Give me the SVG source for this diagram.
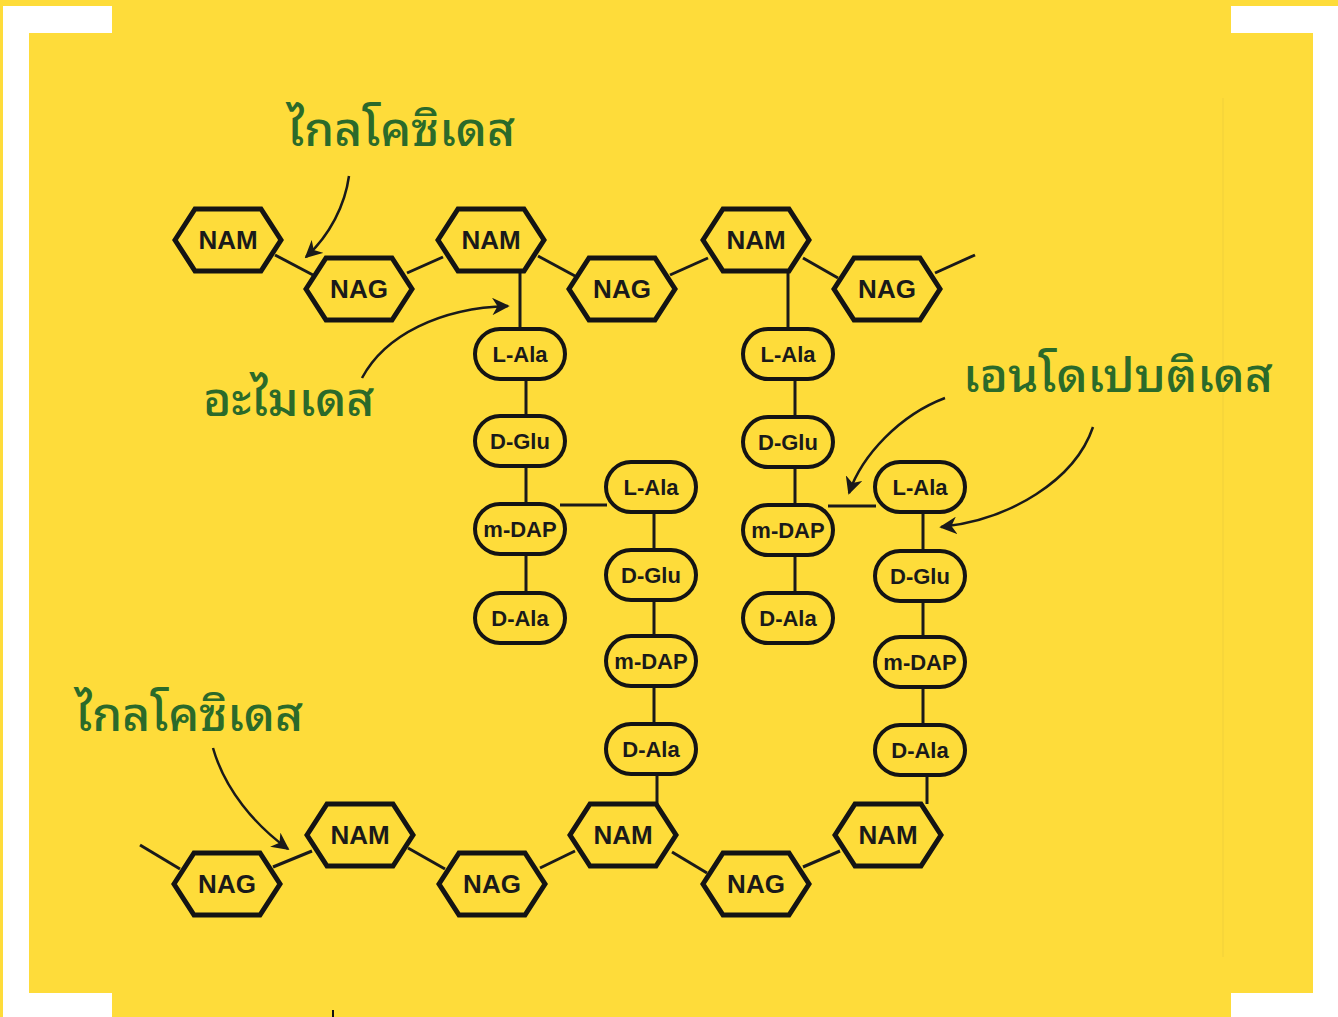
<svg xmlns="http://www.w3.org/2000/svg" width="1338" height="1017" viewBox="0 0 1338 1017">
<style>
.bg{fill:#FEDC3A}
.hex{fill:#FEDC3A;stroke:#141414;stroke-width:5;stroke-linejoin:miter}
.ov{fill:#FEDC3A;stroke:#141414;stroke-width:4}
.con{stroke:#1a1a1a;stroke-width:3;fill:none}
.arr{stroke:#1a1a1a;stroke-width:2.5;fill:none;marker-end:url(#ah)}
.ht{font-family:"Liberation Sans",Arial,sans-serif;font-weight:bold;font-size:26px;fill:#1a1a1a;text-anchor:middle}
.ot{font-family:"Liberation Sans",Arial,sans-serif;font-weight:bold;font-size:22px;fill:#1a1a1a;text-anchor:middle}
.th{font-family:"Noto Sans Thai Looped","Noto Serif Thai","Noto Sans Thai","Noto Sans",sans-serif;font-size:48px;font-weight:500;fill:#2B6A2A}
</style>
<defs>
<marker id="ah" viewBox="0 0 10 10" refX="9" refY="5" markerWidth="7" markerHeight="7" markerUnits="strokeWidth" orient="auto">
<path d="M0,0 L10,5 L0,10 L3,5 Z" fill="#1a1a1a"/>
</marker>
<polygon id="hx" points="-53,0 -33,-31 33,-31 53,0 33,31 -33,31"/>
<rect id="pill" x="-45" y="-25" width="90" height="50" rx="25" ry="25"/>
</defs>
<rect width="1338" height="1017" fill="#ffffff"/>
<g id="background">
<rect class="bg" x="0" y="0" width="1338" height="6"/>
<rect class="bg" x="0" y="0" width="3" height="1017"/>
<rect class="bg" x="29" y="33" width="1284" height="960"/>
<rect class="bg" x="112" y="0" width="1119" height="33"/>
<rect class="bg" x="112" y="993" width="1119" height="24"/>
<line x1="1223" y1="98" x2="1223" y2="957" stroke="#F0D03A" stroke-width="1"/>
<line x1="333" y1="1010" x2="333" y2="1017" stroke="#111" stroke-width="2"/>
</g>
<g id="connectors">
<line class="con" x1="275" y1="255" x2="313" y2="275"/>
<line class="con" x1="407" y1="273" x2="443" y2="257"/>
<line class="con" x1="538" y1="256" x2="575" y2="276"/>
<line class="con" x1="670" y1="275" x2="708" y2="258"/>
<line class="con" x1="803" y1="258" x2="838" y2="278"/>
<line class="con" x1="935" y1="273" x2="975" y2="255"/>
<line class="con" x1="140" y1="845" x2="180" y2="869"/>
<line class="con" x1="273" y1="867" x2="312" y2="851"/>
<line class="con" x1="408" y1="848" x2="445" y2="869"/>
<line class="con" x1="540" y1="868" x2="575" y2="851"/>
<line class="con" x1="672" y1="852" x2="707" y2="873"/>
<line class="con" x1="803" y1="867" x2="840" y2="851"/>
<line class="con" x1="520" y1="272" x2="520" y2="330"/>
<line class="con" x1="526" y1="378" x2="526" y2="417"/>
<line class="con" x1="526" y1="465" x2="526" y2="505"/>
<line class="con" x1="526" y1="553" x2="526" y2="594"/>
<line class="con" x1="560" y1="505" x2="607" y2="505"/>
<line class="con" x1="654" y1="511" x2="654" y2="551"/>
<line class="con" x1="654" y1="599" x2="654" y2="637"/>
<line class="con" x1="654" y1="685" x2="654" y2="725"/>
<line class="con" x1="657" y1="773" x2="657" y2="804"/>
<line class="con" x1="788" y1="272" x2="788" y2="330"/>
<line class="con" x1="795" y1="378" x2="795" y2="418"/>
<line class="con" x1="795" y1="466" x2="795" y2="506"/>
<line class="con" x1="795" y1="554" x2="795" y2="594"/>
<line class="con" x1="828" y1="506" x2="876" y2="506"/>
<line class="con" x1="923" y1="511" x2="923" y2="552"/>
<line class="con" x1="923" y1="600" x2="923" y2="638"/>
<line class="con" x1="923" y1="686" x2="923" y2="726"/>
<line class="con" x1="927" y1="774" x2="927" y2="804"/>
</g>
<g id="nam-t1"><use href="#hx" class="hex" x="228" y="240"/><text class="ht" x="228" y="249">NAM</text></g>
<g id="nag-t1"><use href="#hx" class="hex" x="359" y="289"/><text class="ht" x="359" y="298">NAG</text></g>
<g id="nam-t2"><use href="#hx" class="hex" x="491" y="240"/><text class="ht" x="491" y="249">NAM</text></g>
<g id="nag-t2"><use href="#hx" class="hex" x="622" y="289"/><text class="ht" x="622" y="298">NAG</text></g>
<g id="nam-t3"><use href="#hx" class="hex" x="756" y="240"/><text class="ht" x="756" y="249">NAM</text></g>
<g id="nag-t3"><use href="#hx" class="hex" x="887" y="289"/><text class="ht" x="887" y="298">NAG</text></g>
<g id="nag-b1"><use href="#hx" class="hex" x="227" y="884"/><text class="ht" x="227" y="893">NAG</text></g>
<g id="nam-b1"><use href="#hx" class="hex" x="360" y="835"/><text class="ht" x="360" y="844">NAM</text></g>
<g id="nag-b2"><use href="#hx" class="hex" x="492" y="884"/><text class="ht" x="492" y="893">NAG</text></g>
<g id="nam-b2"><use href="#hx" class="hex" x="623" y="835"/><text class="ht" x="623" y="844">NAM</text></g>
<g id="nag-b3"><use href="#hx" class="hex" x="756" y="884"/><text class="ht" x="756" y="893">NAG</text></g>
<g id="nam-b3"><use href="#hx" class="hex" x="888" y="835"/><text class="ht" x="888" y="844">NAM</text></g>
<g id="c1-lala"><use href="#pill" class="ov" x="520" y="354"/><text class="ot" x="520" y="362">L-Ala</text></g>
<g id="c1-dglu"><use href="#pill" class="ov" x="520" y="441"/><text class="ot" x="520" y="449">D-Glu</text></g>
<g id="c1-mdap"><use href="#pill" class="ov" x="520" y="529"/><text class="ot" x="520" y="537">m-DAP</text></g>
<g id="c1-dala"><use href="#pill" class="ov" x="520" y="618"/><text class="ot" x="520" y="626">D-Ala</text></g>
<g id="c2-lala"><use href="#pill" class="ov" x="651" y="487"/><text class="ot" x="651" y="495">L-Ala</text></g>
<g id="c2-dglu"><use href="#pill" class="ov" x="651" y="575"/><text class="ot" x="651" y="583">D-Glu</text></g>
<g id="c2-mdap"><use href="#pill" class="ov" x="651" y="661"/><text class="ot" x="651" y="669">m-DAP</text></g>
<g id="c2-dala"><use href="#pill" class="ov" x="651" y="749"/><text class="ot" x="651" y="757">D-Ala</text></g>
<g id="c3-lala"><use href="#pill" class="ov" x="788" y="354"/><text class="ot" x="788" y="362">L-Ala</text></g>
<g id="c3-dglu"><use href="#pill" class="ov" x="788" y="442"/><text class="ot" x="788" y="450">D-Glu</text></g>
<g id="c3-mdap"><use href="#pill" class="ov" x="788" y="530"/><text class="ot" x="788" y="538">m-DAP</text></g>
<g id="c3-dala"><use href="#pill" class="ov" x="788" y="618"/><text class="ot" x="788" y="626">D-Ala</text></g>
<g id="c4-lala"><use href="#pill" class="ov" x="920" y="487"/><text class="ot" x="920" y="495">L-Ala</text></g>
<g id="c4-dglu"><use href="#pill" class="ov" x="920" y="576"/><text class="ot" x="920" y="584">D-Glu</text></g>
<g id="c4-mdap"><use href="#pill" class="ov" x="920" y="662"/><text class="ot" x="920" y="670">m-DAP</text></g>
<g id="c4-dala"><use href="#pill" class="ov" x="920" y="750"/><text class="ot" x="920" y="758">D-Ala</text></g>
<g id="arrows">
<path class="arr" d="M349,176 C345,205 330,235 306,257"/>
<path class="arr" d="M362,378 C385,335 440,308 508,306"/>
<path class="arr" d="M945,398 C900,415 862,455 849,493"/>
<path class="arr" d="M1093,427 C1075,480 1010,520 941,527"/>
<path class="arr" d="M213,748 C225,790 255,825 288,849"/>
</g>
<g id="labels">
<text class="th" x="287" y="146">ไกลโคซิเดส</text>
<text class="th" x="203" y="416">อะไมเดส</text>
<text class="th" x="963" y="392">เอนโดเปบติเดส</text>
<text class="th" x="75" y="731">ไกลโคซิเดส</text>
</g>
</svg>
